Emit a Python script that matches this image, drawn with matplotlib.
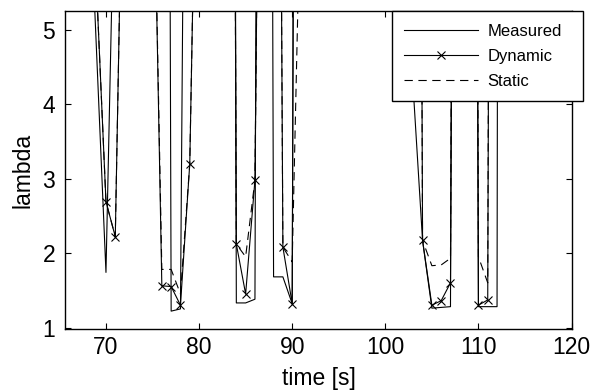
import matplotlib
matplotlib.use("Agg")
import matplotlib.pyplot as plt

plt.rcParams['font.family'] = ['Liberation Sans', 'DejaVu Sans']
plt.rcParams['lines.scale_dashes'] = False

# Measured lambda (own sample times); values above the axis range are fuel-cut phases
t_measured = [68, 70, 71, 76, 77, 78, 79, 83, 84, 85, 86, 87, 88, 89, 90, 91,
              103, 104, 105, 106, 107, 108, 109, 110, 111, 112, 113]
lambda_measured = [7.6, 1.74, 7.6, 41.0, 1.22, 1.25, 18.0, 50.0, 1.33, 1.33, 1.38, 40.0,
                   1.68, 1.68, 1.32, 40.0, 35.0, 2.17, 1.26, 1.27, 1.28, 40.0, 40.0,
                   1.28, 1.28, 1.28, 80.0]

# Model outputs, sampled once per second
t_model = list(range(68, 114))
lambda_dynamic = [20.0, 5.53, 2.69, 2.22, 8.95, 20.0, 20.0, 8.27, 1.56, 1.55, 1.30, 3.20,
                  10.0, 20.0, 20.0, 33.0, 2.12, 1.45, 2.98, 15.6, 24.7, 2.08, 1.32, 40.0,
                  40.0, 40.0, 40.0, 40.0, 40.0, 40.0, 40.0, 40.0, 40.0, 40.0, 20.0, 4.20,
                  2.17, 1.30, 1.36, 1.60, 26.0, 40.0, 1.30, 1.37, 40.0, 40.0]
lambda_static = [20.0, 5.53, 2.69, 2.22, 8.95, 20.0, 20.0, 8.27, 1.78, 1.78, 1.45, 3.20,
                 10.0, 20.0, 20.0, 33.0, 2.12, 1.95, 2.98, 15.6, 24.7, 2.08, 1.88, 7.5,
                 40.0, 40.0, 40.0, 40.0, 40.0, 40.0, 40.0, 40.0, 40.0, 40.0, 20.0, 35.0,
                 2.17, 1.83, 1.84, 1.93, 30.0, 40.0, 1.95, 1.60, 40.0, 40.0]

x_ticks = [70, 80, 90, 100, 110, 120]
y_ticks = [1, 2, 3, 4, 5]

fig = plt.figure(figsize=(5.93, 3.91), dpi=100)
ax = fig.add_axes([65 / 593, 62 / 391, 507 / 593, 318 / 391])

lw = 0.8
ax.plot(t_measured, lambda_measured, color='black', lw=lw, label='Measured')
ax.plot(t_model, lambda_dynamic, color='black', lw=lw, marker='x', markersize=6,
        markeredgewidth=0.8, label='Dynamic')
ax.plot(t_model, lambda_static, color='black', lw=lw, dashes=(6, 4), label='Static')

ax.set_xlim(65.6, 120.05)
ax.set_ylim(0.98, 5.25)
ax.set_xticks(x_ticks)
ax.set_yticks(y_ticks)
ax.tick_params(direction='in', top=True, right=True, length=4, width=0.8,
               labelsize=16.5, colors='black')
ax.tick_params(axis='x', pad=5)
ax.tick_params(axis='y', pad=7)
for s in ax.spines.values():
    s.set_linewidth(1.0)
    s.set_color('black')

ax.set_xlabel('time [s]', fontsize=16.5, labelpad=6)
ax.set_ylabel('lambda', fontsize=16.5, labelpad=6)

leg = ax.legend(loc='upper left', mode='expand',
                bbox_to_anchor=(391.7 / 593, (391 - 99.3) / 391, 191 / 593, 88.3 / 391),
                bbox_transform=fig.transFigure, fontsize=12, handlelength=4.4,
                handletextpad=0.6, labelspacing=0.6, borderpad=0.75, borderaxespad=0,
                fancybox=False, framealpha=1, edgecolor='black')
leg.get_frame().set_linewidth(1.0)
leg.set_zorder(10)

fig.savefig('out.png', dpi=100)
